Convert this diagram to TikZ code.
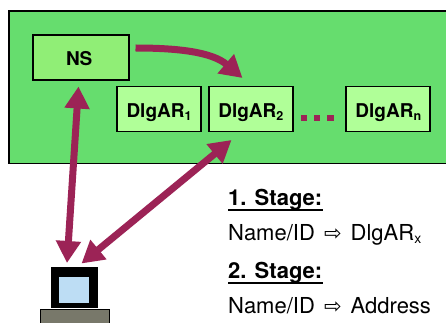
\documentclass[tikz,border=0pt]{standalone}
\usepackage{fontspec}
\setmainfont{TeX Gyre Heros}
\newfontfamily\symfont{DejaVu Sans}
\usetikzlibrary{arrows.meta}
\definecolor{outergreen}{HTML}{66DD6E}
\definecolor{nsgreen}{HTML}{90EE76}
\definecolor{boxgreen}{HTML}{B0FF98}
\definecolor{arrowred}{HTML}{9C2356}
\definecolor{screenblue}{HTML}{BDDDF4}
\definecolor{basegrey}{HTML}{78786A}
\newcommand{\subs}[1]{\raisebox{-3pt}{\fontsize{12.5}{13}\selectfont #1}}
\newcommand{\subr}[1]{\raisebox{-3pt}{\fontsize{14}{15}\selectfont #1}}
\newcommand{\thinarrow}{\hspace{3pt}\raisebox{0pt}{\symfont\fontsize{21}{21}\selectfont ⇨}\hspace{3pt}}
\tikzset{
  inbox/.style={draw=black,line width=1.9pt,inner sep=0pt,minimum height=45pt,text height=16.5pt,text depth=0pt,font=\fontsize{19}{22}\selectfont\bfseries},
  dlgbox/.style={inbox,fill=boxgreen,minimum width=84pt},
  arr/.style={draw=arrowred,line width=7pt,-{Triangle[length=22pt,width=24pt,fill=arrowred]}},
  biarr/.style={draw=arrowred,line width=7pt,{Triangle[length=22pt,width=24pt,fill=arrowred]}-{Triangle[length=22pt,width=24pt,fill=arrowred]}},
  dotmark/.style={fill=arrowred,inner sep=0pt,minimum width=6.5pt,minimum height=6pt},
  txt/.style={anchor=base west,inner sep=0pt,font=\fontsize{22}{24}\selectfont},
  head/.style={txt,font=\fontsize{22}{24}\selectfont\bfseries},
  ul/.style={draw=black,line width=2pt}
}
\begin{document}
\begin{tikzpicture}[x=1pt,y=-1pt]
\useasboundingbox (0,0) rectangle (446,323);
\fill[white] (0,0) rectangle (446,323);
\draw[draw=black,line width=1.9pt,fill=outergreen] (9,10.8) rectangle (450,163.5);
\node[inbox,fill=nsgreen,minimum width=96pt] (ns) at (81.2,57.5) {\hspace{-4pt}NS};
\node[dlgbox] (d1) at (159,109) {DlgAR\subs{1}};
\node[dlgbox] (d2) at (250.8,109) {DlgAR\subs{2}};
\node[dlgbox] (dn) at (388.3,109) {DlgAR\subs{n}};
\node[dotmark] (p1) at (304,118) {};
\node[dotmark] (p2) at (317.2,118) {};
\node[dotmark] (p3) at (330.5,118) {};
% computer
\fill[basegrey,draw=black,line width=1pt] (40.5,309.5) rectangle (109,330);
\node[fill=black,minimum width=47pt,minimum height=41pt,inner sep=0pt] (pc) at (74.5,287.5) {};
\node[fill=screenblue,minimum width=30.5pt,minimum height=26.5pt,inner sep=0pt] (scr) at (74.2,289.8) {};
\coordinate (nsIn) at (78.5,86.5);
\coordinate (pcA) at (67,263);
\coordinate (d2In) at (231.5,140);
\coordinate (pcB) at (81.5,263.5);
\coordinate (nsOut) at (135.5,48);
\coordinate (d2Top) at (242.5,78);
\draw[biarr] (nsIn) -- (pcA);
\draw[biarr] (d2In) -- (pcB);
\draw[arr] (nsOut) .. controls (178,48) and (212,52) .. (d2Top);
% text
\node[head] (s1) at (228,205.5) {1. Stage:};
\node[txt] (t1) at (228,240) {Name/ID \thinarrow{} DlgAR\subr{x}};
\node[head] (s2) at (228,278) {2. Stage:};
\node[txt] (t2) at (228,313) {Name/ID \thinarrow{} Address};
\draw[ul] (228,209.8) -- (323,209.8);
\draw[ul] (228,282.8) -- (323,282.8);
\end{tikzpicture}
\end{document}
